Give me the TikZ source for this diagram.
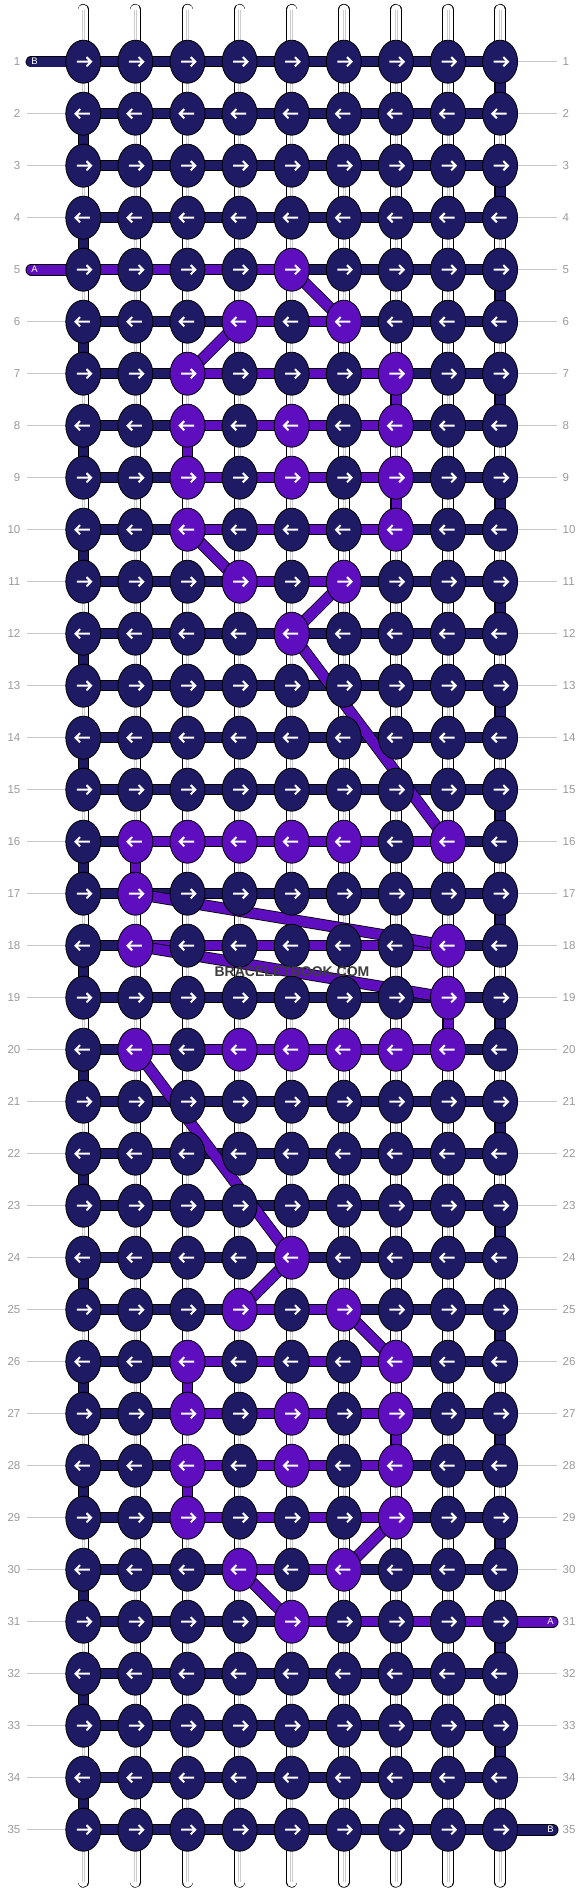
\documentclass[tikz,border=0pt]{standalone}
\usepackage{fontspec}
\setmainfont{Liberation Sans}
\usetikzlibrary{shapes.geometric}
\definecolor{dk}{RGB}{30,26,99}
\definecolor{pu}{RGB}{94,14,190}
\definecolor{lbl}{RGB}{155,155,155}
\definecolor{lline}{RGB}{200,200,200}
\definecolor{strg}{RGB}{205,205,205}
\definecolor{wmk}{RGB}{60,60,60}
\tikzset{
 knot/.style={ellipse, draw=black, line width=0.8pt, minimum width=35pt, minimum height=43pt, inner sep=0pt},
 hbar/.style={draw=black, line width=0.8pt},
 arw/.style={draw=white, line width=2pt, line join=miter},
 rlab/.style={text=lbl, inner sep=0pt, font=\fontsize{11.5}{12}\selectfont},
 endlab/.style={text=white, inner sep=0pt, font=\fontsize{9.5}{10}\selectfont},
 rowline/.style={draw=lline, line width=1pt},
 bandout/.style={draw=black, line width=11.6pt},
}
\begin{document}
\begin{tikzpicture}[x=1pt,y=-1pt]
\useasboundingbox (0,0) rectangle (584,1892);
\fill[white] (0,0) rectangle (584,1892);
% flags: purple knots and purple bars
\foreach \r/\c in {5/5,6/4,6/6,7/3,7/7,8/3,8/5,8/7,9/3,9/5,9/7,10/3,10/7,11/4,11/6,12/5,16/2,16/3,16/4,16/5,16/6,16/8,17/2,18/2,18/8,19/8,20/2,20/4,20/5,20/6,20/7,20/8,24/5,25/4,25/6,26/3,26/7,27/3,27/5,27/7,28/3,28/5,28/7,29/3,29/7,30/4,30/6,31/5}{\expandafter\gdef\csname pk@\r @\c\endcsname{}}
\foreach \r/\c in {5/1,5/2,5/3,5/4,6/4,6/5,7/3,7/4,7/5,7/6,8/3,8/4,8/5,8/6,9/3,9/4,9/5,9/6,10/3,10/4,10/5,10/6,11/4,11/5,16/2,16/3,16/4,16/5,16/6,16/7,18/2,18/3,18/4,18/5,18/6,18/7,20/2,20/3,20/4,20/5,20/6,20/7,25/4,25/5,26/3,26/4,26/5,26/6,27/3,27/4,27/5,27/6,28/3,28/4,28/5,28/6,29/3,29/4,29/5,29/6,30/4,30/5,31/5,31/6,31/7,31/8}{\expandafter\gdef\csname pb@\r @\c\endcsname{}}
% grid coordinates
\foreach \r in {1,...,35}{\foreach \c in {1,...,9}{
  \pgfmathsetmacro\xx{83.3+(\c-1)*52.1}\pgfmathsetmacro\yy{61.7+(\r-1)*52}
  \coordinate (p-\r-\c) at (\xx,\yy);}}
% base strings
\foreach \c in {1,...,9}{
  \pgfmathsetmacro\xx{83.3+(\c-1)*52.1}
  \coordinate (st-\c) at (\xx,9.6);
  \coordinate (sb-\c) at (\xx,1882);
  \draw[black, line width=11.4pt, line cap=round] (st-\c) -- (sb-\c);
  \draw[white, line width=10pt, line cap=round] (st-\c) -- (sb-\c);
  \draw[strg, line width=0.5pt] ([xshift=-1pt]st-\c) -- ([xshift=-1pt]sb-\c);
  \draw[strg, line width=0.5pt] ([xshift=1pt]st-\c) -- ([xshift=1pt]sb-\c);
}
% row label lines
\foreach \r in {1,...,35}{
  \pgfmathsetmacro\yy{61.7+(\r-1)*52}
  \ifnum\r=1 \else\ifnum\r=5 \else
    \coordinate (la-\r) at (27,\yy);
    \draw[rowline] (la-\r) -- (p-\r-1);
  \fi\fi
  \ifnum\r=31 \else\ifnum\r=35 \else
    \coordinate (ra-\r) at (557,\yy);
    \draw[rowline] (p-\r-9) -- (ra-\r);
  \fi\fi
}
% vertical turn bars
\foreach \r [evaluate=\r as \rn using int(\r+1)] in {1,3,...,33}{
  \draw[hbar, fill=dk] ([xshift=-5pt]p-\r-9) rectangle ([xshift=5pt]p-\rn-9);}
\foreach \r [evaluate=\r as \rn using int(\r+1)] in {2,4,...,34}{
  \draw[hbar, fill=dk] ([xshift=-5pt]p-\r-1) rectangle ([xshift=5pt]p-\rn-1);}
\foreach \r/\c [evaluate=\r as \rn using int(\r+1)] in {7/7,8/3,9/7,16/2,19/8,26/3,27/7,28/3}{
  \draw[hbar, fill=pu] ([xshift=-5pt]p-\r-\c) rectangle ([xshift=5pt]p-\rn-\c);}
% horizontal bars
\foreach \r in {1,...,35}{
  \foreach \c [evaluate=\c as \cn using int(\c+1)] in {1,...,8}{
    \ifcsname pb@\r @\c\endcsname\def\bc{pu}\else\def\bc{dk}\fi
    \draw[hbar, fill=\bc] ([yshift=5pt]p-\r-\c) rectangle ([yshift=-5pt]p-\r-\cn);
  }}
% end threads
\coordinate (eb-1) at (31.3,61.7);
\draw[bandout, line cap=round] (eb-1) -- (p-1-1);
\draw[dk, line width=10pt, line cap=round] (eb-1) -- (p-1-1);
\node[endlab] (eB-1) at (34.5,61.7) {B};
\coordinate (eb-5) at (31.3,269.7);
\draw[bandout, line cap=round] (eb-5) -- (p-5-1);
\draw[pu, line width=10pt, line cap=round] (eb-5) -- (p-5-1);
\node[endlab] (eA-5) at (34.5,269.7) {A};
\coordinate (eb-31) at (552.7,1621.7);
\draw[bandout, line cap=round] (p-31-9) -- (eb-31);
\draw[pu, line width=10pt, line cap=round] (p-31-9) -- (eb-31);
\node[endlab] (eA-31) at (550.5,1621.7) {A};
\coordinate (eb-35) at (552.7,1829.7);
\draw[bandout, line cap=round] (p-35-9) -- (eb-35);
\draw[dk, line width=10pt, line cap=round] (p-35-9) -- (eb-35);
\node[endlab] (eB-35) at (550.5,1829.7) {B};
% diagonal carries
\foreach \ra/\ca/\rb/\cb in {5/5/6/6,6/4/7/3,10/3/11/4,11/6/12/5,12/5/16/8,17/2/18/8,18/2/19/8,20/2/24/5,24/5/25/4,25/6/26/7,29/7/30/6,30/4/31/5}{
  \draw[bandout] (p-\ra-\ca) -- (p-\rb-\cb);
  \draw[pu, line width=10pt] (p-\ra-\ca) -- (p-\rb-\cb);
}
% knots with arrows
\foreach \r in {1,...,35}{\foreach \c in {1,...,9}{
  \ifcsname pk@\r @\c\endcsname\def\kc{pu}\else\def\kc{dk}\fi
  \node[knot, fill=\kc] (k-\r-\c) at (p-\r-\c) {};
  \ifodd\r \def\dir{1}\else\def\dir{-1}\fi
  \begin{scope}[shift={(p-\r-\c)}, xscale=\dir]
    \draw[arw] (-6.5,0) -- (7.5,0) (3.2,-4.6) -- (7.8,0) -- (3.2,4.6);
  \end{scope}
}}
% row numbers
\foreach \r in {1,...,35}{
  \pgfmathsetmacro\yy{61.7+(\r-1)*52}
  \node[rlab, anchor=east] (nl-\r) at (20.5,\yy) {\r};
  \node[rlab, anchor=west] (nr-\r) at (562.5,\yy) {\r};
}
% watermark
\node[font=\bfseries\fontsize{14}{14}\selectfont, text=wmk, inner sep=0pt] (wm) at (292,972) {BRACELETBOOK.COM};
\end{tikzpicture}
\end{document}
